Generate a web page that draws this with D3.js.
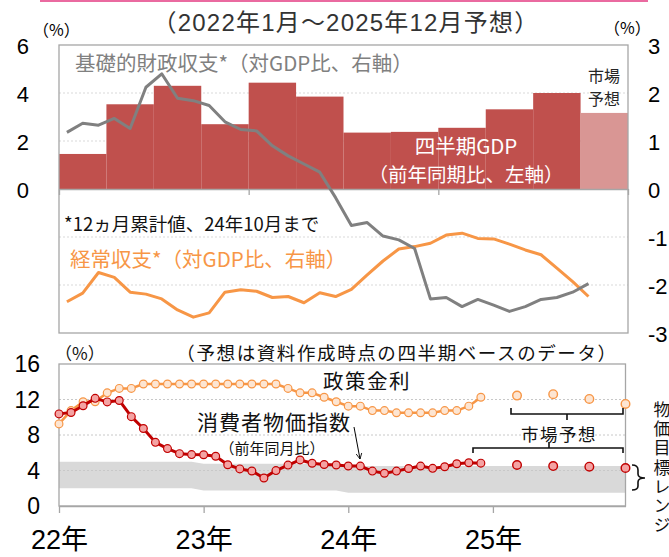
<!DOCTYPE html>
<html>
<head>
<meta charset="utf-8">
<script src="https://cdn.jsdelivr.net/npm/d3@7"></script>
<style>
  body { margin: 0; background: #fff; }
  svg { display: block; }
</style>
</head>
<body>
<script>
// -----------------------------
// Data
// -----------------------------

// Quarterly GDP (yoy %, left axis); last quarter is the market forecast
const GDP_QUARTERS = ["2022Q1", "2022Q2", "2022Q3", "2022Q4", "2023Q1", "2023Q2",
  "2023Q3", "2023Q4", "2024Q1", "2024Q2", "2024Q3", "2024Q4"];
const GDP_YOY = [1.46, 3.53, 4.3, 2.7, 4.43, 3.85, 2.35, 2.38, 2.55, 3.32, 4.0, 3.17];
const GDP_FORECAST = [false, false, false, false, false, false, false, false, false, false, false, true];

// Monthly balances (% of GDP, right axis), Jan 2022 - Oct 2024
const BALANCE_START = "2022-01";
const PRIMARY_BALANCE = [1.18, 1.37, 1.33, 1.47, 1.26, 2.12, 2.40, 1.89, 1.84, 1.74, 1.40, 1.24,
  1.21, 0.90, 0.69, 0.52, 0.35, -0.18, -0.76, -0.70, -0.98, -1.06, -1.24, -2.29,
  -2.26, -2.45, -2.30, -2.42, -2.55, -2.45, -2.30, -2.26, -2.15, -1.97];
const CURRENT_ACCOUNT = [-2.35, -2.17, -1.74, -1.84, -2.15, -2.19, -2.29, -2.52, -2.67, -2.58, -2.15, -2.10,
  -2.13, -2.26, -2.24, -2.37, -2.16, -2.24, -2.09, -1.79, -1.50, -1.25, -1.20, -1.13,
  -0.96, -0.92, -1.03, -1.04, -1.15, -1.27, -1.37, -1.65, -1.93, -2.24];

// Monthly policy rate and CPI (yoy %), Jan 2022 - Dec 2024
const RATE_START = "2022-01";
const POLICY_RATE = [9.25, 10.75, 11.75, 11.75, 12.75, 13.25, 13.25, 13.75, 13.75, 13.75, 13.75, 13.75,
  13.75, 13.75, 13.75, 13.75, 13.75, 13.75, 13.75, 13.25, 12.75, 12.75, 12.25, 11.75,
  11.25, 11.25, 10.75, 10.75, 10.5, 10.5, 10.5, 10.5, 10.75, 10.75, 11.25, 12.25];
const CPI_YOY = [10.38, 10.54, 11.30, 12.13, 11.73, 11.89, 10.07, 8.73, 7.17, 6.47, 5.90, 5.79,
  5.77, 5.60, 4.65, 4.18, 3.94, 3.16, 3.99, 4.61, 5.19, 4.82, 4.68, 4.62,
  4.51, 4.50, 3.93, 3.69, 3.93, 4.23, 4.50, 4.24, 4.42, 4.76, 4.87, 4.83];

// Market forecasts (quarterly)
const FORECAST_MONTHS = ["2025-03", "2025-06", "2025-09", "2025-12"];
const RATE_FORECAST = [12.44, 12.6, 12.06, 11.5];
const CPI_FORECAST = [4.62, 4.5, 4.43, 4.28];

// Inflation target range by year
const TARGET_YEARS = [2022, 2023, 2024, 2025];
const TARGET_LOW = [2.0, 1.75, 1.5, 1.5];
const TARGET_HIGH = [5.0, 4.75, 4.5, 4.5];

// Axis tick labels
const TOP_LEFT_TICKS = [0, 2, 4, 6];
const TOP_RIGHT_TICKS = [3, 2, 1, 0, -1, -2, -3];
const BOTTOM_TICKS = [0, 4, 8, 12, 16];
const YEAR_LABELS = ["22年", "23年", "24年", "25年"];

// -----------------------------
// SVG Setup
// -----------------------------

const WIDTH = 669;
const HEIGHT = 557;
const NUM_FONT = "'Liberation Sans Narrow', 'Liberation Sans', 'Noto Sans CJK JP', sans-serif";
const JP_FONT = "'Noto Sans CJK JP', sans-serif";

const svg = d3.select("body")
  .append("svg")
  .attr("width", WIDTH)
  .attr("height", HEIGHT)
  .attr("viewBox", `0 0 ${WIDTH} ${HEIGHT}`);

// month offset from Jan 2022
function monthIndex(label) {
  const [y, m] = label.split("-").map(Number);
  return (y - 2022) * 12 + (m - 1);
}

// pink rule at the very top
svg.append("line")
  .attr("x1", 40).attr("x2", 648)
  .attr("y1", 1).attr("y2", 1)
  .attr("stroke", "#ea6aa0")
  .attr("stroke-width", 2);

svg.append("text")
  .attr("x", 346).attr("y", 22)
  .attr("text-anchor", "middle")
  .attr("dominant-baseline", "central")
  .attr("font-family", NUM_FONT)
  .attr("font-size", 24)
  .attr("letter-spacing", 1.2)
  .attr("fill", "#333")
  .text("（2022年1月～2025年12月予想）");

// -----------------------------
// Top chart: GDP bars and balances
// -----------------------------

function drawTopChart() {
  const L = 59, R = 628, T = 45, B = 333;

  const x = d3.scaleLinear().domain([0, 36]).range([L, R]);
  const yLeft = d3.scaleLinear().domain([0, 6]).range([189, T]);
  const yRight = d3.scaleLinear().domain([-3, 3]).range([B, T]);

  const g = svg.append("g");

  // dotted gridlines
  g.selectAll("line.grid")
    .data([2, 1, -1, -2])
    .enter().append("line")
    .attr("x1", L).attr("x2", R)
    .attr("y1", d => yRight(d)).attr("y2", d => yRight(d))
    .attr("stroke", "#d9d9d9")
    .attr("stroke-dasharray", "2,2");

  // GDP bars
  g.selectAll("rect.bar")
    .data(GDP_YOY)
    .enter().append("rect")
    .attr("x", (d, i) => x(i * 3))
    .attr("width", (d, i) => x(i * 3 + 3) - x(i * 3))
    .attr("y", d => yLeft(d))
    .attr("height", d => yLeft(0) - yLeft(d))
    .attr("fill", (d, i) => GDP_FORECAST[i] ? "#d99694" : "#c0504d");

  // frame
  g.append("rect")
    .attr("x", L).attr("y", T)
    .attr("width", R - L).attr("height", B - T)
    .attr("fill", "none")
    .attr("stroke", "#a6a6a6")
    .attr("stroke-width", 1.3);

  // x axis at zero
  const axis = g.append("g")
    .attr("transform", `translate(0,${yLeft(0)})`)
    .call(d3.axisBottom(x).tickValues([0, 12, 24, 36]).tickSize(6).tickSizeOuter(0).tickFormat(""));
  axis.selectAll("path, line").attr("stroke", "#a6a6a6").attr("stroke-width", 1.3);

  // balance lines
  const start = monthIndex(BALANCE_START);
  const line = d3.line()
    .x((d, i) => x(start + i + 0.5))
    .y(d => yRight(d));

  g.append("path")
    .datum(CURRENT_ACCOUNT)
    .attr("d", line)
    .attr("fill", "none")
    .attr("stroke", "#f79646")
    .attr("stroke-width", 3)
    .attr("stroke-linejoin", "round");

  g.append("path")
    .datum(PRIMARY_BALANCE)
    .attr("d", line)
    .attr("fill", "none")
    .attr("stroke", "#808080")
    .attr("stroke-width", 3)
    .attr("stroke-linejoin", "round");

  // axis labels
  g.selectAll("text.yl")
    .data(TOP_LEFT_TICKS)
    .enter().append("text")
    .attr("x", 29).attr("y", d => yLeft(d) + 1)
    .attr("text-anchor", "end")
    .attr("dominant-baseline", "central")
    .attr("font-family", NUM_FONT)
    .attr("font-size", 22)
    .text(d => d);

  g.selectAll("text.yr")
    .data(TOP_RIGHT_TICKS)
    .enter().append("text")
    .attr("x", 648).attr("y", d => yRight(d) + 1)
    .attr("dominant-baseline", "central")
    .attr("font-family", NUM_FONT)
    .attr("font-size", 22)
    .text(d => d);

  g.append("text").attr("x", 33).attr("y", 29)
    .attr("font-family", JP_FONT).attr("font-size", 16)
    .attr("dominant-baseline", "central").text("（%）");
  g.append("text").attr("x", 604).attr("y", 27)
    .attr("font-family", JP_FONT).attr("font-size", 16)
    .attr("dominant-baseline", "central").text("（%）");

  // annotations
  const note = (tx, ty, str, size, color, anchor) => g.append("text")
    .attr("x", tx).attr("y", ty)
    .attr("text-anchor", anchor || "start")
    .attr("dominant-baseline", "central")
    .attr("font-family", JP_FONT)
    .attr("font-size", size)
    .attr("fill", color)
    .text(str);

  note(75, 62, "基礎的財政収支*（対GDP比、右軸）", 20.5, "#808080");
  note(604, 75, "市場", 16, "#262626", "middle");
  note(604, 98, "予想", 16, "#262626", "middle");
  note(466, 145, "四半期GDP", 20.5, "#fff", "middle");
  note(466, 173, "（前年同期比、左軸）", 19.5, "#fff", "middle");
  note(64, 223, "*12ヵ月累計値、24年10月まで", 18.5, "#111");
  note(70, 258, "経常収支*（対GDP比、右軸）", 20.5, "#f79646");
}

drawTopChart();

// -----------------------------
// Bottom chart: policy rate and CPI
// -----------------------------

function drawBottomChart() {
  const L = 59, R = 625.5, T = 364, B = 506;

  const x = d3.scaleLinear().domain([0, 47]).range([L, R]);
  const y = d3.scaleLinear().domain([0, 16]).range([B, T]);

  const g = svg.append("g");

  // inflation target band (monthly, stepping at each new year)
  const bandMonths = d3.range(0, 48);
  const yearOf = i => TARGET_YEARS.indexOf(2022 + Math.floor(i / 12));
  const band = d3.area()
    .x(i => x(i))
    .y0(i => y(TARGET_LOW[yearOf(i)]))
    .y1(i => y(TARGET_HIGH[yearOf(i)]));

  g.append("path")
    .datum(bandMonths)
    .attr("d", band)
    .attr("fill", "#d9d9d9");

  // dotted gridlines
  g.selectAll("line.grid")
    .data([4, 8, 12])
    .enter().append("line")
    .attr("x1", L).attr("x2", R)
    .attr("y1", d => y(d)).attr("y2", d => y(d))
    .attr("stroke", "#c8c8c8")
    .attr("stroke-dasharray", "2,2");

  // frame
  g.append("rect")
    .attr("x", L).attr("y", T)
    .attr("width", R - L).attr("height", B - T)
    .attr("fill", "none")
    .attr("stroke", "#a6a6a6")
    .attr("stroke-width", 1.3);

  // x axis with year labels
  const axis = g.append("g")
    .attr("transform", `translate(0,${B})`)
    .call(d3.axisBottom(x).tickValues([0, 12, 24, 36]).tickSize(7).tickSizeOuter(0)
      .tickFormat((d, i) => YEAR_LABELS[i]));
  axis.selectAll("path, line").attr("stroke", "#a6a6a6").attr("stroke-width", 1.3);
  axis.selectAll("text")
    .attr("y", 34)
    .attr("dy", "0.35em")
    .attr("font-family", NUM_FONT)
    .attr("font-size", 27)
    .attr("fill", "#000");

  // y labels
  g.selectAll("text.yl")
    .data(BOTTOM_TICKS)
    .enter().append("text")
    .attr("x", 40).attr("y", d => y(d))
    .attr("text-anchor", "end")
    .attr("dominant-baseline", "central")
    .attr("font-family", NUM_FONT)
    .attr("font-size", 23)
    .text(d => d);

  // series
  const rateStart = monthIndex(RATE_START);
  const line = d3.line()
    .x((d, i) => x(rateStart + i))
    .y(d => y(d));

  function series(values, forecast, lineColor, dotFill, width) {
    g.append("path")
      .datum(values)
      .attr("d", line)
      .attr("fill", "none")
      .attr("stroke", lineColor)
      .attr("stroke-width", width)
      .attr("stroke-linejoin", "round");

    g.append("g").selectAll("circle")
      .data(values)
      .enter().append("circle")
      .attr("cx", (d, i) => x(rateStart + i))
      .attr("cy", d => y(d))
      .attr("r", 3.9)
      .attr("fill", dotFill)
      .attr("stroke", lineColor)
      .attr("stroke-width", 1.2);

    g.append("g").selectAll("circle")
      .data(forecast)
      .enter().append("circle")
      .attr("cx", (d, i) => x(monthIndex(FORECAST_MONTHS[i])))
      .attr("cy", d => y(d))
      .attr("r", 4.3)
      .attr("fill", dotFill)
      .attr("stroke", lineColor)
      .attr("stroke-width", 1.4);
  }

  series(POLICY_RATE, RATE_FORECAST, "#f79646", "#fde5d2", 2.5);
  series(CPI_YOY, CPI_FORECAST, "#c00000", "#f4a3a3", 3);

  // labels
  const note = (tx, ty, str, size, anchor, spacing) => g.append("text")
    .attr("x", tx).attr("y", ty)
    .attr("text-anchor", anchor || "start")
    .attr("dominant-baseline", "central")
    .attr("font-family", JP_FONT)
    .attr("font-size", size)
    .attr("letter-spacing", spacing || 0)
    .attr("fill", "#111")
    .text(str);

  note(55, 352, "（%）", 17);
  note(397, 352, "（予想は資料作成時点の四半期ベースのデータ）", 18.5, "middle", 1.6);
  note(367, 380, "政策金利", 20.5, "middle", 1.5);
  note(274, 421, "消費者物価指数", 21, "middle", 1);
  note(272, 447, "（前年同月比）", 15, "middle");
  note(559, 433, "市場予想", 17.5, "middle", 1.5);

  // arrow to the CPI line
  const defs = svg.append("defs");
  defs.append("marker")
    .attr("id", "arrow")
    .attr("viewBox", "0 0 10 10")
    .attr("refX", 9).attr("refY", 5)
    .attr("markerWidth", 7).attr("markerHeight", 7)
    .attr("orient", "auto")
    .append("path")
    .attr("d", "M1,1 L9,5 L1,9")
    .attr("fill", "none")
    .attr("stroke", "#000")
    .attr("stroke-width", 1.2);

  g.append("line")
    .attr("x1", 354).attr("y1", 427)
    .attr("x2", 360).attr("y2", 459)
    .attr("stroke", "#000")
    .attr("stroke-width", 1)
    .attr("marker-end", "url(#arrow)");

  // forecast brackets
  const bracket = d => g.append("path")
    .attr("d", d)
    .attr("fill", "none")
    .attr("stroke", "#111")
    .attr("stroke-width", 1.6);

  bracket("M511,408 V414 H623 V408 M567,414 V420");
  bracket("M473,453 V448 H623 V453 M549,448 V442");

  // curly brace for the target range
  bracket("M632,465 Q638,465 638,470 V474 Q638,478 645,478 Q638,478 638,482 V486 Q638,490 632,490");

  // vertical label for the target range
  g.append("text")
    .attr("x", 662)
    .attr("y", 401)
    .style("writing-mode", "vertical-rl")
    .attr("font-family", JP_FONT)
    .attr("font-size", 17)
    .attr("letter-spacing", 2.2)
    .attr("fill", "#111")
    .text("物価目標レンジ");
}

drawBottomChart();
</script>
</body>
</html>
